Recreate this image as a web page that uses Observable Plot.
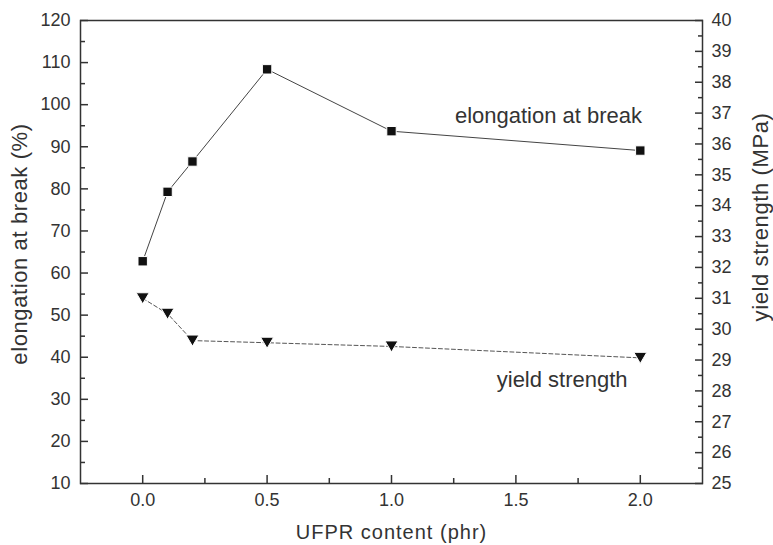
<!DOCTYPE html>
<html><head><meta charset="utf-8">
<script src="https://cdn.jsdelivr.net/npm/d3@7"></script>
<script src="https://cdn.jsdelivr.net/npm/@observablehq/plot@0.6"></script>
<style>body{margin:0;background:#fff;} #chart{width:773px;height:545px;}</style>
</head><body><div id="chart"></div>
<script>
// ---- data ----
const content = [0, 0.1, 0.2, 0.5, 1.0, 2.0];
const elongation = [62.8, 79.3, 86.5, 108.4, 93.7, 89.1];        // %
const yieldStrength = [31.0, 30.5, 29.63, 29.56, 29.44, 29.07];  // MPa
const xTicks = [0, 0.5, 1.0, 1.5, 2.0];
const xMinorTicks = [0.25, 0.75, 1.25, 1.75];
const leftTicks = [10, 20, 30, 40, 50, 60, 70, 80, 90, 100, 110, 120];
const leftMinorTicks = [15, 25, 35, 45, 55, 65, 75, 85, 95, 105, 115];
const rightTicks = [25, 26, 27, 28, 29, 30, 31, 32, 33, 34, 35, 36, 37, 38, 39, 40];
const rightMinorTicks = [25.5, 26.5, 27.5, 28.5, 29.5, 30.5, 31.5, 32.5, 33.5, 34.5, 35.5, 36.5, 37.5, 38.5, 39.5];
const seriesLabels = ["elongation at break", "yield strength"];
const labelX = [1.255, 1.423];
const labelY = [97.4, 34.5];   // in left-axis units
const xTitle = "UFPR content (phr)";
const yLeftTitle = "elongation at break (%)";
const yRightTitle = "yield strength (MPa)";

// ---- scale mapping of right axis onto left axis ----
const leftDomain = [10, 120], rightDomain = [25, 40];
const toLeft = v => leftDomain[0] + (v - rightDomain[0]) * (leftDomain[1] - leftDomain[0]) / (rightDomain[1] - rightDomain[0]);

const elongData = content.map((x, i) => ({x, y: elongation[i]}));
const yieldData = content.map((x, i) => ({x, y: toLeft(yieldStrength[i])}));
const labels = seriesLabels.map((t, i) => ({t, x: labelX[i], y: labelY[i]}));

const triDown = {
  draw(context, size) {
    const r = Math.sqrt(size / Math.PI);
    context.moveTo(-r, -0.85 * r);
    context.lineTo(r, -0.85 * r);
    context.lineTo(0, 0.85 * r);
    context.closePath();
  }
};

const ink = "#333";
const fs = 18;

const chart = Plot.plot({
  width: 773, height: 545,
  marginLeft: 80, marginRight: 71, marginTop: 20, marginBottom: 62,
  x: {domain: [-0.25, 2.25]},
  y: {domain: leftDomain},
  style: {fontFamily: "'Liberation Sans', Arial, sans-serif", color: ink, background: "#fff"},
  marks: [
    // tick marks (inward)
    Plot.axisX({ticks: xTicks, tickSize: -8, fill: "none", stroke: ink, strokeWidth: 1.5, label: null}),
    Plot.axisX({ticks: xMinorTicks, tickSize: -5, fill: "none", stroke: ink, strokeWidth: 1.5, label: null}),
    Plot.axisY({ticks: leftTicks, tickSize: -8, fill: "none", stroke: ink, strokeWidth: 1.5, label: null}),
    Plot.axisY({ticks: leftMinorTicks, tickSize: -5, fill: "none", stroke: ink, strokeWidth: 1.5, label: null}),
    Plot.axisY({anchor: "right", ticks: rightTicks.map(toLeft), tickSize: -8, fill: "none", stroke: ink, strokeWidth: 1.5, label: null}),
    Plot.axisY({anchor: "right", ticks: rightMinorTicks.map(toLeft), tickSize: -5, fill: "none", stroke: ink, strokeWidth: 1.5, label: null}),
    // tick labels
    Plot.axisX({ticks: xTicks, tickSize: 0, tickPadding: 10, tickFormat: d3.format(".1f"), fontSize: fs, label: null}),
    Plot.axisY({ticks: leftTicks, tickSize: 0, tickPadding: 10, fontSize: fs, label: null}),
    Plot.axisY({anchor: "right", ticks: rightTicks.map(toLeft), tickSize: 0, tickPadding: 9, fontSize: fs, label: null,
      tickFormat: (d, i) => String(rightTicks[i])}),
    // frame
    Plot.frame({stroke: ink, strokeWidth: 1.5}),
    // axis titles
    Plot.text([xTitle], {frameAnchor: "bottom", textAnchor: "middle", lineAnchor: "middle", dy: 49, fontSize: 20, fill: ink}),
    Plot.text([yLeftTitle], {frameAnchor: "left", textAnchor: "middle", lineAnchor: "middle", dx: -61, dy: -8, rotate: -90, fontSize: 22, fill: ink}),
    Plot.text([yRightTitle], {frameAnchor: "right", textAnchor: "middle", lineAnchor: "middle", dx: 58, dy: -35, rotate: -90, fontSize: 22, fill: ink}),
    // series
    Plot.line(elongData, {x: "x", y: "y", stroke: "#444", strokeWidth: 1}),
    Plot.dot(elongData, {x: "x", y: "y", symbol: "square", r: 5.3, fill: "#111", stroke: "#fff", strokeWidth: 1}),
    Plot.line(yieldData, {x: "x", y: "y", stroke: "#555", strokeWidth: 1, strokeDasharray: "4,2.5"}),
    Plot.dot(yieldData, {x: "x", y: "y", symbol: triDown, r: 6.5, fill: "#111", stroke: "#fff", strokeWidth: 1}),
    // series labels
    Plot.text(labels, {x: "x", y: "y", text: "t", textAnchor: "start", fontSize: 22, fill: ink})
  ]
});
// slightly wider lettering for the axis titles, as in the reference
chart.querySelectorAll("text").forEach(t => {
  if (t.textContent === xTitle) t.setAttribute("letter-spacing", "1");
  if (t.textContent === yLeftTitle || t.textContent === yRightTitle) t.setAttribute("letter-spacing", "0.6");
});
document.getElementById("chart").appendChild(chart);
</script>
</body></html>
